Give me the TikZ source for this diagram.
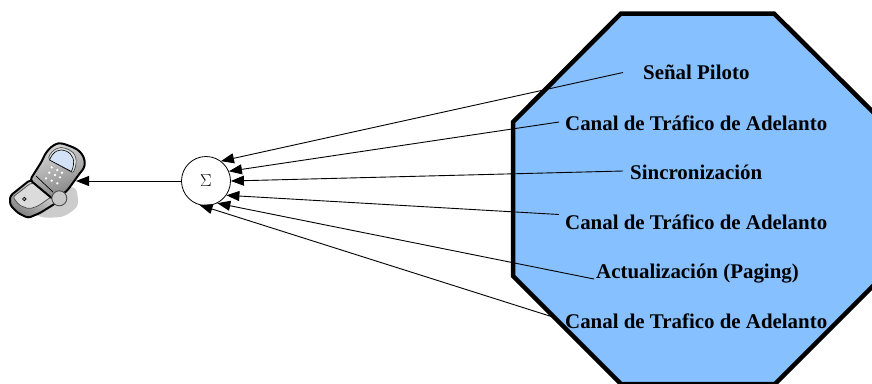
\documentclass[tikz,border=0pt]{standalone}
\usepackage{fontspec}
\setmainfont{Liberation Serif}
\usetikzlibrary{arrows.meta}
\definecolor{cellblue}{RGB}{135,192,255}
\definecolor{phonescreen}{RGB}{212,226,247}
\tikzset{
    signal/.style={draw, line width=0.9pt, -{Triangle[length=13pt,width=10pt]}},
    channel/.style={inner sep=0, anchor=base west, font=\fontsize{20.9}{21}\selectfont\bfseries},
    phoneline/.style={draw=black, line width=2pt, line join=round, rounded corners=3pt},
    phonethin/.style={draw=black!70, line width=0.7pt, line join=round, rounded corners=2pt},
    phonekey/.style={fill=white}
}
\begin{document}
\begin{tikzpicture}[x=1pt, y=-1pt]
    \useasboundingbox (0, 0) rectangle (872, 383);
    \clip (0, 0) rectangle (872, 383);
    \draw[fill=cellblue, line width=4.5pt, miter limit=2] (621, 13.5) -- (774, 13.5) -- (883, 122) -- (883, 276) -- (775, 384) -- (621, 384) -- (513, 276) -- (513, 122) -- cycle;
    \node[channel] (senal) at (643, 79.5) {Señal Piloto};
    \node[channel] (canalA) at (565, 130) {Canal de Tráfico de Adelanto};
    \node[channel] (sincro) at (630, 179.5) {Sincronización};
    \node[channel] (canalB) at (565, 229.5) {Canal de Tráfico de Adelanto};
    \node[channel] (paging) at (596, 278.5) {Actualización (Paging)};
    \node[channel] (canalC) at (565, 328.5) {Canal de Trafico de Adelanto};
    \node[draw, fill=white, circle, inner sep=0, minimum size=49pt, line width=0.8pt, font=\fontsize{17}{17}\selectfont] (sigma) at (206, 181) {$\Sigma$};
    \coordinate (phone) at (76, 181);
    \coordinate (senalEnd) at (623, 72.5);
    \coordinate (canalAEnd) at (559, 122);
    \coordinate (sincroEnd) at (623, 171);
    \coordinate (canalBEnd) at (559, 214.5);
    \coordinate (pagingEnd) at (594, 279);
    \coordinate (canalCEnd) at (556, 318);
    \draw[signal] (senalEnd) -- (sigma.53);
    \draw[signal] (canalAEnd) -- (sigma.23);
    \draw[signal] (sincroEnd) -- (sigma.0);
    \draw[signal] (canalBEnd) -- (sigma.-35);
    \draw[signal] (pagingEnd) -- (sigma.-63);
    \draw[signal] (canalCEnd) -- (sigma.-105);
    \fill[black!20, rounded corners=6pt] (76, 186) -- (79, 206) -- (64, 217) -- (43, 218) -- (30, 212) -- (60, 190) -- cycle;
    \draw[signal] (sigma.west) -- (phone);
    \draw[phoneline, top color=black!10, bottom color=black!50, shading angle=-30] (30, 180) -- (10, 196) -- (10, 205) -- (18, 213) -- (28, 218) -- (40, 213) -- (56, 203) -- (50, 186) -- cycle;
    \draw[phonethin, fill=black!14] (31, 183) -- (13, 197) -- (19, 205) -- (29, 209) -- (38, 206) -- (54, 195) -- (44, 184) -- cycle;
    \draw[phoneline, left color=black!15, right color=black!50, shading angle=20] (63, 143.5) .. controls (55, 143) and (47, 149) .. (42, 161) -- (30, 180) -- (54, 200) -- (67, 191) -- (80, 173) .. controls (87, 165) and (85, 155) .. (75, 148) -- cycle;
    \draw[phonethin, fill=black!12] (48, 159) .. controls (52, 149) and (60, 146) .. (67, 149) .. controls (75, 152) and (79, 160) .. (73, 173) -- cycle;
    \draw[line width=0.6pt, fill=phonescreen] (49.5, 160) .. controls (53, 151) and (60, 148) .. (66, 151) .. controls (73, 154) and (76, 161) .. (71.5, 171.5) -- cycle;
    \draw[line width=0.7pt] (36, 176) -- (53, 192);
    \fill[phonekey] (51.7, 167.3) circle [radius=1.3];
    \fill[phonekey] (57.3, 170) circle [radius=1.3];
    \fill[phonekey] (62, 172.7) circle [radius=1.3];
    \fill[phonekey] (49.3, 172.7) circle [radius=1.3];
    \fill[phonekey] (55, 175) circle [radius=1.3];
    \fill[phonekey] (60, 177.3) circle [radius=1.3];
    \fill[phonekey] (46, 178.3) circle [radius=1.3];
    \fill[phonekey] (51.7, 180.7) circle [radius=1.3];
    \fill[phonekey] (57.3, 183.3) circle [radius=1.3];
    \draw[line width=0.9pt, draw=black!70, fill=black!22] (59.3, 198.3) circle [radius=7.5];
    \draw[line width=0.6pt, fill=black!40] (24.3, 199) circle [radius=1.8];
\end{tikzpicture}
\end{document}
